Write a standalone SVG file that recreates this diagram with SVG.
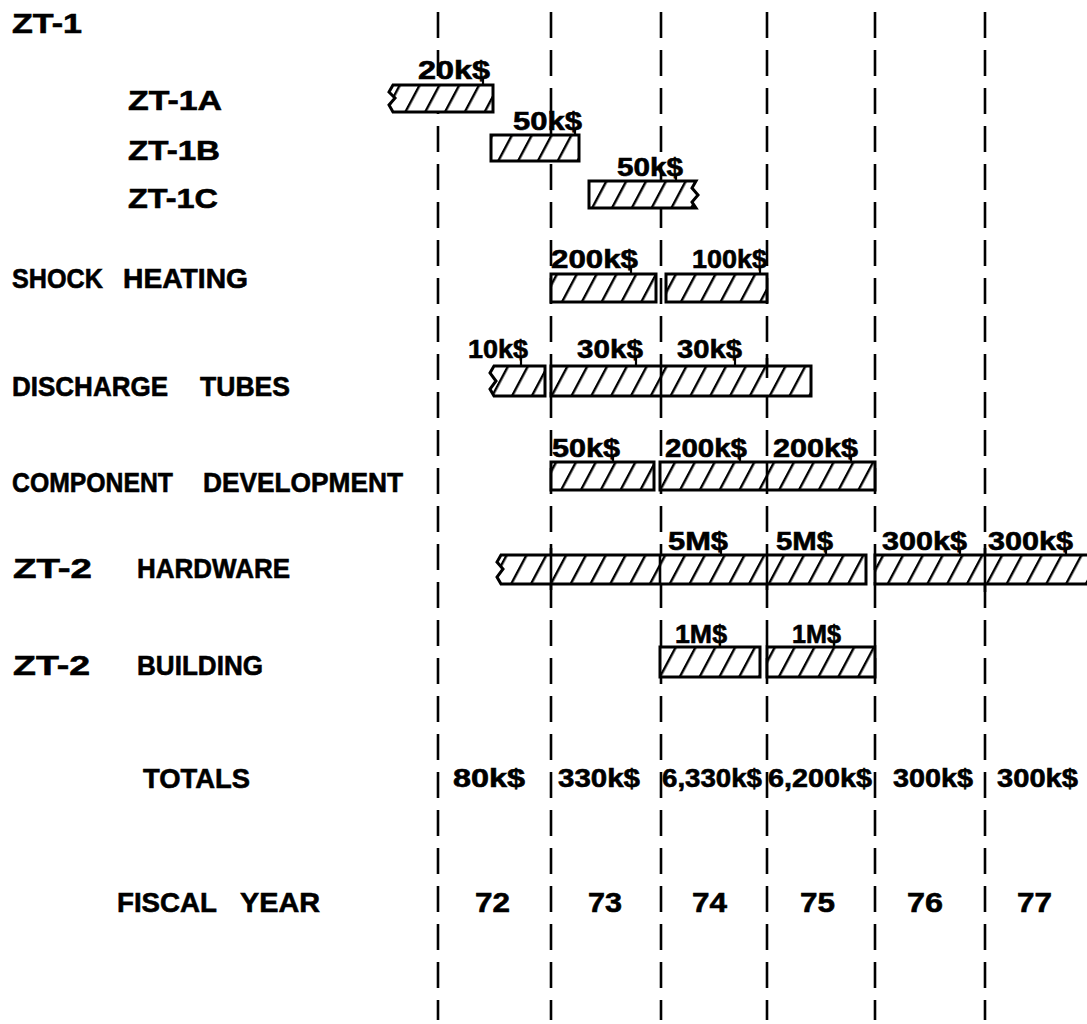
<svg xmlns="http://www.w3.org/2000/svg" width="1087" height="1024" viewBox="0 0 1087 1024">
<defs>
<pattern id="hatch" patternUnits="userSpaceOnUse" width="17.5" height="20" patternTransform="rotate(28)">
<rect width="17.5" height="20" fill="#fff"/>
<line x1="8" y1="-2" x2="8" y2="22" stroke="#000" stroke-width="2.4"/>
</pattern>
</defs>
<style>
text{font-family:"Liberation Sans",Arial,sans-serif;font-weight:bold;fill:#000;stroke:#000;stroke-width:0.6}
.lab{font-size:28px}
.val{font-size:26px}
.grid{stroke:#000;stroke-width:2.6;stroke-dasharray:26 12;fill:none}
.bar{fill:url(#hatch);stroke:#000;stroke-width:3;stroke-linejoin:miter}
.open{fill:none;stroke:#000;stroke-width:3}
.div{stroke:#000;stroke-width:2.6}
.tail{stroke:#000;stroke-width:2.2}
</style>
<rect width="1087" height="1024" fill="#fff"/>

<g id="grid">
<line class="grid" x1="438" y1="12" x2="438" y2="1020"/>
<line class="grid" x1="551" y1="12" x2="551" y2="1020"/>
<line class="grid" x1="661" y1="12" x2="661" y2="1020"/>
<line class="grid" x1="767" y1="12" x2="767" y2="1020"/>
<line class="grid" x1="875" y1="12" x2="875" y2="1020"/>
<line class="grid" x1="985" y1="12" x2="985" y2="1020"/>
</g>

<g id="row-labels">
<text class="lab" x="12" y="33" textLength="70" lengthAdjust="spacingAndGlyphs">ZT-1</text>
<text class="lab" x="128" y="110" textLength="94" lengthAdjust="spacingAndGlyphs">ZT-1A</text>
<text class="lab" x="128" y="160" textLength="92" lengthAdjust="spacingAndGlyphs">ZT-1B</text>
<text class="lab" x="128" y="208" textLength="90" lengthAdjust="spacingAndGlyphs">ZT-1C</text>
<text class="lab" x="12" y="288" textLength="91" lengthAdjust="spacingAndGlyphs">SHOCK</text>
<text class="lab" x="123" y="288" textLength="125" lengthAdjust="spacingAndGlyphs">HEATING</text>
<text class="lab" x="12" y="396" textLength="156" lengthAdjust="spacingAndGlyphs">DISCHARGE</text>
<text class="lab" x="200" y="396" textLength="90" lengthAdjust="spacingAndGlyphs">TUBES</text>
<text class="lab" x="12" y="492" textLength="161" lengthAdjust="spacingAndGlyphs">COMPONENT</text>
<text class="lab" x="203" y="492" textLength="200" lengthAdjust="spacingAndGlyphs">DEVELOPMENT</text>
<text class="lab" x="13" y="578" textLength="79" lengthAdjust="spacingAndGlyphs">ZT-2</text>
<text class="lab" x="137" y="578" textLength="153" lengthAdjust="spacingAndGlyphs">HARDWARE</text>
<text class="lab" x="13" y="675" textLength="77" lengthAdjust="spacingAndGlyphs">ZT-2</text>
<text class="lab" x="137" y="675" textLength="126" lengthAdjust="spacingAndGlyphs">BUILDING</text>
<text class="lab" x="143" y="788" textLength="107" lengthAdjust="spacingAndGlyphs">TOTALS</text>
<text class="lab" x="117" y="912" textLength="100" lengthAdjust="spacingAndGlyphs">FISCAL</text>
<text class="lab" x="240" y="912" textLength="80" lengthAdjust="spacingAndGlyphs">YEAR</text>
</g>

<g id="bar-zt1a">
<path class="bar" d="M393 85 H493 V112 H393 L389 105 L395 98 L389 92 Z"/>
<text class="val" x="418" y="79" textLength="72" lengthAdjust="spacingAndGlyphs">20k$</text>
<line class="tail" x1="483" y1="79" x2="483" y2="85"/>
</g>
<g id="bar-zt1b">
<rect class="bar" x="491" y="135" width="88" height="26"/>
<text class="val" x="513" y="130" textLength="69" lengthAdjust="spacingAndGlyphs">50k$</text>
<line class="tail" x1="575" y1="130" x2="575" y2="135"/>
</g>
<g id="bar-zt1c">
<path class="bar" d="M589 181 H696 L692 188 L698 195 L692 202 L696 208 H589 Z"/>
<text class="val" x="617" y="176" textLength="66" lengthAdjust="spacingAndGlyphs">50k$</text>
<line class="tail" x1="676" y1="176" x2="676" y2="181"/>
</g>

<g id="bar-shock">
<rect class="bar" x="551" y="274" width="105" height="28"/>
<rect class="bar" x="666" y="274" width="101" height="28"/>
<text class="val" x="551" y="268" textLength="87" lengthAdjust="spacingAndGlyphs">200k$</text>
<text class="val" x="692" y="268" textLength="75" lengthAdjust="spacingAndGlyphs">100k$</text>
<line class="tail" x1="631" y1="268" x2="631" y2="274"/>
<line class="tail" x1="760" y1="268" x2="760" y2="274"/>
</g>

<g id="bar-discharge">
<path class="bar" d="M494 366 H545 V396 H494 L490 389 L496 381 L490 373 Z"/>
<rect class="bar" x="551" y="366" width="260" height="30"/>
<line class="div" x1="661" y1="366" x2="661" y2="396"/>
<line class="div" x1="767" y1="358" x2="767" y2="378"/>
<text class="val" x="468" y="358" textLength="60" lengthAdjust="spacingAndGlyphs">10k$</text>
<text class="val" x="577" y="358" textLength="66" lengthAdjust="spacingAndGlyphs">30k$</text>
<text class="val" x="677" y="358" textLength="65" lengthAdjust="spacingAndGlyphs">30k$</text>
<line class="tail" x1="521" y1="358" x2="521" y2="366"/>
<line class="tail" x1="636" y1="358" x2="636" y2="366"/>
<line class="tail" x1="735" y1="358" x2="735" y2="366"/>
</g>

<g id="bar-component">
<rect class="bar" x="551" y="462" width="103" height="28"/>
<rect class="bar" x="660" y="462" width="215" height="28"/>
<line class="div" x1="767" y1="462" x2="767" y2="490"/>
<text class="val" x="552" y="457" textLength="68" lengthAdjust="spacingAndGlyphs">50k$</text>
<text class="val" x="665" y="457" textLength="82" lengthAdjust="spacingAndGlyphs">200k$</text>
<text class="val" x="773" y="457" textLength="85" lengthAdjust="spacingAndGlyphs">200k$</text>
<line class="tail" x1="613" y1="457" x2="613" y2="462"/>
<line class="tail" x1="740" y1="457" x2="740" y2="462"/>
<line class="tail" x1="851" y1="457" x2="851" y2="462"/>
</g>

<g id="bar-hardware">
<path class="bar" d="M501 555 H866 V584 H501 L497 577 L503 569 L497 562 Z"/>
<rect x="875" y="555" width="215" height="29" fill="url(#hatch)"/>
<path class="open" d="M1092 555 H875 V584 H1092"/>
<line class="div" x1="551" y1="548" x2="551" y2="590"/>
<line class="div" x1="660" y1="555" x2="660" y2="584"/>
<line class="div" x1="767" y1="555" x2="767" y2="590"/>
<line class="div" x1="985" y1="548" x2="985" y2="592"/>
<text class="val" x="668" y="550" textLength="60" lengthAdjust="spacingAndGlyphs">5M$</text>
<text class="val" x="776" y="550" textLength="57" lengthAdjust="spacingAndGlyphs">5M$</text>
<text class="val" x="882" y="550" textLength="85" lengthAdjust="spacingAndGlyphs">300k$</text>
<text class="val" x="988" y="550" textLength="85" lengthAdjust="spacingAndGlyphs">300k$</text>
<line class="tail" x1="721" y1="550" x2="721" y2="555"/>
<line class="tail" x1="826" y1="550" x2="826" y2="555"/>
<line class="tail" x1="960" y1="550" x2="960" y2="555"/>
<line class="tail" x1="1066" y1="550" x2="1066" y2="555"/>
</g>

<g id="bar-building">
<rect class="bar" x="660" y="647" width="100" height="30"/>
<rect class="bar" x="767" y="647" width="108" height="30"/>
<text class="val" x="675" y="643" textLength="52" lengthAdjust="spacingAndGlyphs">1M$</text>
<text class="val" x="792" y="643" textLength="49" lengthAdjust="spacingAndGlyphs">1M$</text>
<line class="tail" x1="720" y1="643" x2="720" y2="647"/>
<line class="tail" x1="834" y1="643" x2="834" y2="647"/>
</g>

<g id="totals">
<text class="val" x="453" y="787" textLength="72" lengthAdjust="spacingAndGlyphs">80k$</text>
<text class="val" x="558" y="787" textLength="82" lengthAdjust="spacingAndGlyphs">330k$</text>
<text class="val" x="662" y="787" textLength="100" lengthAdjust="spacingAndGlyphs">6,330k$</text>
<text class="val" x="768" y="787" textLength="104" lengthAdjust="spacingAndGlyphs">6,200k$</text>
<text class="val" x="893" y="787" textLength="80" lengthAdjust="spacingAndGlyphs">300k$</text>
<text class="val" x="997" y="787" textLength="81" lengthAdjust="spacingAndGlyphs">300k$</text>
</g>

<g id="fiscal-years">
<text class="lab" x="475" y="912" textLength="35" lengthAdjust="spacingAndGlyphs">72</text>
<text class="lab" x="588" y="912" textLength="34" lengthAdjust="spacingAndGlyphs">73</text>
<text class="lab" x="692" y="912" textLength="35" lengthAdjust="spacingAndGlyphs">74</text>
<text class="lab" x="800" y="912" textLength="35" lengthAdjust="spacingAndGlyphs">75</text>
<text class="lab" x="907" y="912" textLength="36" lengthAdjust="spacingAndGlyphs">76</text>
<text class="lab" x="1017" y="912" textLength="35" lengthAdjust="spacingAndGlyphs">77</text>
</g>
</svg>
